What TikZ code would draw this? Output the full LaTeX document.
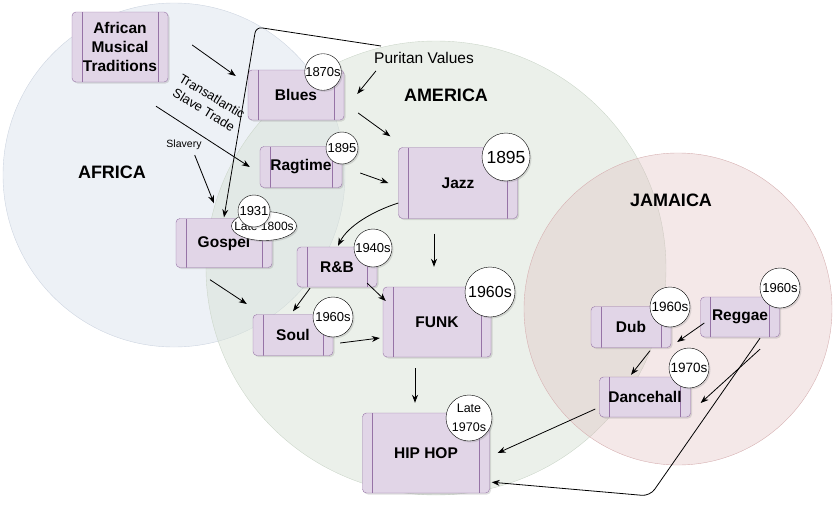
\documentclass[tikz,border=0pt]{standalone}
\usepackage{fontspec}
\setmainfont{Liberation Sans}
\usetikzlibrary{arrows.meta,calc,shadows,shapes.geometric}
\definecolor{boxfill}{HTML}{E1D5E7}
\definecolor{boxline}{HTML}{9673A6}
\definecolor{africafill}{HTML}{DCE3EE}
\definecolor{africaline}{HTML}{CDD5E0}
\definecolor{americafill}{HTML}{D8E2D6}
\definecolor{americaline}{HTML}{CBD6C9}
\definecolor{jamaicafill}{HTML}{DDB9BA}
\definecolor{jamaicaline}{HTML}{D6B0B1}
\tikzset{
  genre/.style={draw=boxline, fill=boxfill, rounded corners=4pt, inner sep=0pt, align=center,
    font=\fontsize{15.5}{19}\selectfont\bfseries,
    drop shadow={opacity=0.25, shadow xshift=1.5pt, shadow yshift=-1.5pt},
    path picture={\draw[boxline]
      ([xshift=10pt]path picture bounding box.north west) -- ([xshift=10pt]path picture bounding box.south west)
      ([xshift=-10pt]path picture bounding box.north east) -- ([xshift=-10pt]path picture bounding box.south east);}},
  year/.style={circle, draw, fill=white, inner sep=0pt, align=center, minimum size=#1,
    font=\fontsize{13}{15}\selectfont,
    drop shadow={opacity=0.25, shadow xshift=1.5pt, shadow yshift=-1.5pt}},
  region/.style={font=\fontsize{18}{20}\selectfont\bfseries},
  flow/.style={->, line width=0.8pt}
}
\begin{document}
\begin{tikzpicture}[x=1pt, y=-1pt, >={Stealth[length=8pt,width=6pt]}]
\useasboundingbox (0,0) rectangle (833,506);

\fill[africafill, fill opacity=0.5] (174,175) ellipse [x radius=171pt, y radius=172pt];
\draw[africaline] (174,175) ellipse [x radius=171pt, y radius=172pt];
\fill[americafill, fill opacity=0.5] (436,268) ellipse [x radius=230pt, y radius=227pt];
\draw[americaline] (436,268) ellipse [x radius=230pt, y radius=227pt];
\fill[jamaicafill, fill opacity=0.33] (678,309) ellipse [x radius=154pt, y radius=156pt];
\draw[jamaicaline] (678,309) ellipse [x radius=154pt, y radius=156pt];

\node[region] (africa) at (112,172) {AFRICA};
\node[region] (america) at (446,95) {AMERICA};
\node[region] (jamaica) at (671,200) {JAMAICA};

\node[genre, minimum width=96pt, minimum height=70pt] (african) at (120,47) {African\\Musical\\Traditions};
\node[genre, minimum width=96pt, minimum height=50pt] (blues) at (296,95) {Blues};
\node[genre, minimum width=82pt, minimum height=41pt] (ragtime) at (301,167) {Ragtime};
\node[genre, minimum width=119pt, minimum height=71pt] (jazz) at (458,183) {Jazz};
\node[genre, minimum width=96pt, minimum height=49pt] (gospel) at (224,243) {Gospel};
\node[genre, minimum width=80pt, minimum height=40pt] (rnb) at (337,267) {R\&B};
\node[genre, minimum width=80pt, minimum height=41pt] (soul) at (293,335) {Soul};
\node[genre, minimum width=108pt, minimum height=70pt] (funk) at (437,322) {FUNK};
\node[genre, minimum width=127pt, minimum height=80pt] (hiphop) at (426,453) {HIP HOP};
\node[genre, minimum width=80pt, minimum height=41pt] (dub) at (631,327) {Dub};
\node[genre, minimum width=79pt, minimum height=40pt] (reggae) at (740,317) {Reggae};
\node[genre, minimum width=91pt, minimum height=40pt] (dancehall) at (645,397) {Dancehall};

\node[year=36pt] (bluesyear) at (323,72) {1870s};
\node[year=32pt] (ragtimeyear) at (342,148) {1895};
\node[year=48pt, font=\fontsize{17.5}{19}\selectfont] (jazzyear) at (506,157) {1895};
\node[ellipse, draw, fill=white, inner xsep=-7pt, inner ysep=-1pt, minimum width=65pt, minimum height=29pt,
  font=\fontsize{12}{14}\selectfont, drop shadow={opacity=0.25, shadow xshift=1.5pt, shadow yshift=-1.5pt}]
  (gospellate) at (264,226) {Late 1800s};
\node[year=32pt] (gospelyear) at (254,211) {1931};
\node[year=38pt] (rnbyear) at (373,248) {1940s};
\node[year=40pt] (soulyear) at (333,317) {1960s};
\node[year=50pt, font=\fontsize{16}{18}\selectfont] (funkyear) at (490,292) {1960s};
\node[year=46pt, font=\fontsize{12.5}{19}\selectfont] (hiphopyear) at (469,418) {Late\\1970s};
\node[year=40pt, font=\fontsize{13.5}{15}\selectfont] (dubyear) at (670,307) {1960s};
\node[year=40pt] (reggaeyear) at (780,288) {1960s};
\node[year=40pt, font=\fontsize{13.5}{15}\selectfont] (dancehallyear) at (689,368) {1970s};

\node[font=\fontsize{15.5}{17}\selectfont, inner sep=0pt] (puritan) at (424,58) {Puritan Values};
\node[font=\fontsize{10.5}{12}\selectfont, inner sep=0pt] (slavery) at (184,145) {Slavery};
\node[font=\fontsize{13}{16}\selectfont, align=center, rotate=-31, inner sep=0pt] (trade) at (208,103) {Transatlantic\\Slave Trade};

\draw[flow] ($(african.east)+(24,-2)$) -- ($(blues.west)+(-12,-19)$);
\draw[flow] ($(african.south)+(36,24)$) -- ($(ragtime.west)+(-10,0)$);
\draw[flow] ($(slavery.south east)+(-7,5)$) -- ($(gospel.north)+(-10,-15)$);
\draw[flow, rounded corners=6pt] ($(puritan.west)+(7,-12)$) -- (256,27) -- ($(gospel.north)+(0,-1)$);
\draw[flow] ($(puritan.south west)+(2,7)$) -- ($(blues.east)+(13,-1)$);
\draw[flow] ($(blues.east)+(14,18)$) -- ($(jazz.north west)+(-8,-11)$);
\draw[flow] ($(ragtime.east)+(18,6)$) -- ($(jazz.west)+(-10,0)$);
\draw[flow] ($(jazz.west)+(0,20)$) .. controls +(-25,8) and +(10,-20) .. ($(rnb.north)+(1,-1)$);
\draw[flow] ($(jazz.south)+(-24,15)$) -- ($(funk.north)+(-3,-20)$);
\draw[flow] ($(gospel.south)+(-14,12)$) -- ($(soul.west)+(-6,-31)$);
\draw[flow] ($(rnb.south)+(-27,1)$) -- ($(soul.north)+(0,-3)$);
\draw[flow] ($(rnb.south east)+(-10,-4)$) -- ($(funk.west)+(3,-21)$);
\draw[flow] ($(soul.east)+(7,8)$) -- ($(funk.west)+(-3,16)$);
\draw[flow] ($(funk.south)+(-22,11)$) -- ($(hiphop.north)+(-11,-10)$);
\draw[flow] ($(dancehall.west)+(-4,12)$) -- ($(hiphop.east)+(8,0)$);
\draw[flow] ($(reggae.west)+(4,6)$) -- ($(dub.east)+(6,15)$);
\draw[flow] ($(dub.south)+(19,3)$) -- ($(dancehall.north)+(-14,-2)$);
\draw[flow] ($(reggae.south)+(20,12)$) -- ($(dancehall.east)+(10,6)$);
\draw[flow, rounded corners=8pt] ($(reggae.south)+(20,1)$) -- (650,496) -- ($(hiphop.south east)+(2,-11)$);
\end{tikzpicture}
\end{document}
